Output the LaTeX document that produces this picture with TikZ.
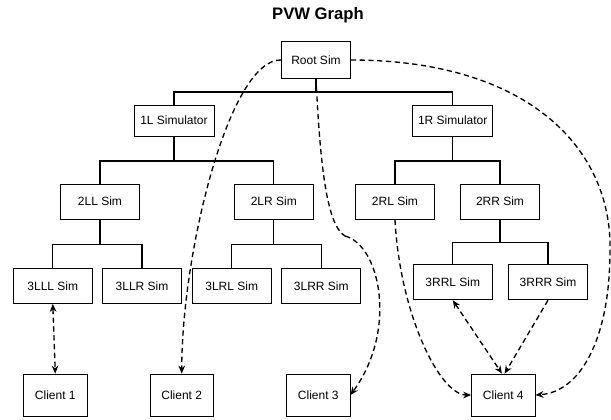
\documentclass[tikz,border=0pt]{standalone}
\usepackage{fontspec}
\setmainfont{Liberation Sans}
\usetikzlibrary{arrows.meta}

\begin{document}
\begin{tikzpicture}[x=0.75pt,y=0.75pt,yscale=-1,xscale=1,
  simbox/.style={draw, line width=0.6pt, inner sep=0pt, font=\fontsize{9}{11}\selectfont,
    minimum width=59.3pt, minimum height=26.5pt},
  topbox/.style={simbox, minimum width=60pt, minimum height=23.3pt},
  clientbox/.style={simbox, minimum width=47.6pt, minimum height=31.5pt},
  tree/.style={line width=1pt},
  link/.style={line width=1pt, dash pattern=on 4pt off 2.6pt, -{Stealth[length=6pt,width=5pt]}},
  biglink/.style={link, {Stealth[length=6pt,width=5pt]}-{Stealth[length=6pt,width=5pt]}}]
\useasboundingbox (0,0) rectangle (611,419);

% Title
\node [font=\bfseries\fontsize{12.5}{15}\selectfont] (title) at (318,15) {PVW Graph};

%Shape: Rectangle (simulators)
\node [simbox, minimum width=51.5pt, minimum height=27.5pt] (root) at (316,60) {Root Sim};
\node [topbox] (sim1l) at (174,120.5) {1L Simulator};
\node [topbox] (sim1r) at (452.7,120.5) {1R Simulator};
\node [simbox] (sim2ll) at (100,201.7) {2LL Sim};
\node [simbox] (sim2lr) at (273.8,201.7) {2LR Sim};
\node [simbox] (sim2rl) at (395,201.7) {2RL Sim};
\node [simbox] (sim2rr) at (500,201.7) {2RR Sim};
\node [simbox] (sim3lll) at (52.8,285.8) {3LLL Sim};
\node [simbox] (sim3llr) at (142,285.8) {3LLR Sim};
\node [simbox] (sim3lrl) at (231.7,285.8) {3LRL Sim};
\node [simbox] (sim3lrr) at (321.3,285.8) {3LRR Sim};
\node [simbox] (sim3rrl) at (452.8,282.2) {3RRL Sim};
\node [simbox] (sim3rrr) at (548,282.2) {3RRR Sim};

%Shape: Rectangle (clients)
\node [clientbox] (client1) at (55.3,395) {Client 1};
\node [clientbox] (client2) at (181.7,395) {Client 2};
\node [clientbox] (client3) at (318.3,395) {Client 3};
\node [clientbox] (client4) at (503.3,395) {Client 4};

%Straight Lines (tree)
\draw [tree] (root.south) -- ++(0,13.4) -| (sim1l.north);
\draw [tree] (root.south) -- ++(0,13.4) -| (sim1r.north);
\draw [tree] (sim1l.south) -- ++(0,24.7) -| (sim2ll.north);
\draw [tree] (sim1l.south) -- ++(0,24.7) -| (sim2lr.north);
\draw [tree] (sim1r.south) -- ++(0,24.7) -| (sim2rl.north);
\draw [tree] (sim1r.south) -- ++(0,24.7) -| (sim2rr.north);
\draw [tree] (sim2ll.south) -- ++(0,24.7) -| (sim3lll.north);
\draw [tree] (sim2ll.south) -- ++(0,24.7) -| (sim3llr.north);
\draw [tree] (sim2lr.south) -- ++(0,24.7) -| (sim3lrl.north);
\draw [tree] (sim2lr.south) -- ++(0,24.7) -| (sim3lrr.north);
\draw [tree] (sim2rr.south) -- ++(0,23) -| (sim3rrl.north);
\draw [tree] (sim2rr.south) -- ++(0,23) -| (sim3rrr.north);

%Curve Lines (client links)
\coordinate (kink3) at (345,236);
\coordinate (far4) at (610,250);
\draw [biglink] (sim3lll.south) -- (client1.north);
\draw [link] (root.west) .. controls (230,58) and (182,250) .. (client2.north);
\draw [dash pattern=on 4pt off 2.6pt, line width=1pt] (root.south) .. controls (320,160) and (326,225) .. (kink3);
\draw [link] (kink3) .. controls (380,245) and (398,330) .. (client3.east);
\draw [link] (sim2rl.south) .. controls (400,315) and (440,395) .. (client4.west);
\draw [biglink] (sim3rrl.south) -- ([xshift=-1pt]client4.north);
\draw [link] (sim3rrr.south) -- ([xshift=1pt]client4.north);
\draw [dash pattern=on 4pt off 2.6pt, line width=1pt] (root.east) .. controls (530,60) and (612,150) .. (far4);
\draw [link] (far4) .. controls (610,340) and (580,392) .. (client4.east);

\end{tikzpicture}
\end{document}
